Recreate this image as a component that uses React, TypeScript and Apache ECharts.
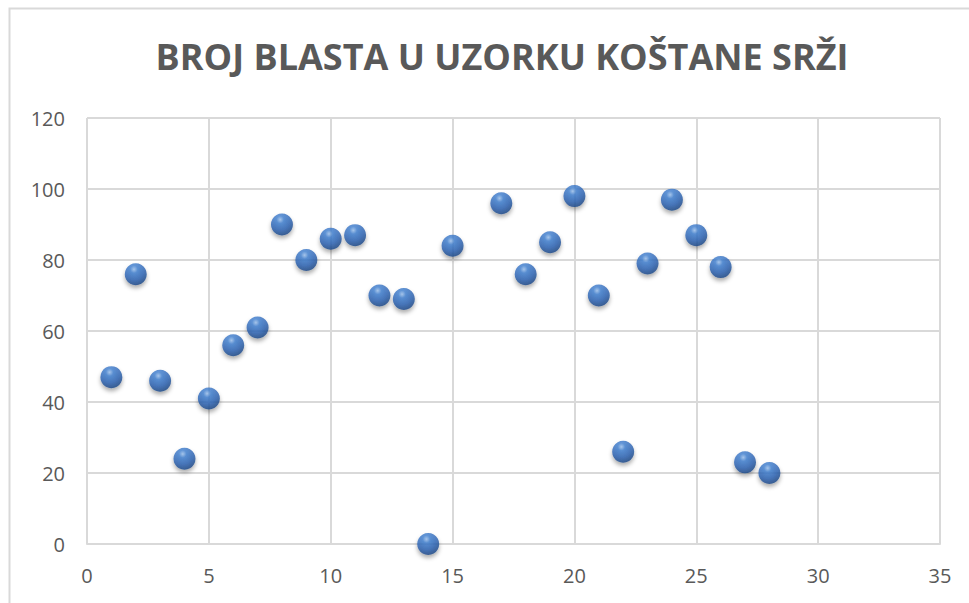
import React, { useEffect, useRef } from "react";
import * as echarts from "echarts";

const TITLE = "BROJ BLASTA U UZORKU KOŠTANE SRŽI";
const xValues = [1, 2, 3, 4, 5, 6, 7, 8, 9, 10, 11, 12, 13, 14, 15, 17, 18, 19, 20, 21, 22, 23, 24, 25, 26, 27, 28];
const yValues = [47, 76, 46, 24, 41, 56, 61, 90, 80, 86, 87, 70, 69, 0, 84, 96, 76, 85, 98, 70, 26, 79, 97, 87, 78, 23, 20];

export default function App() {
  const ref = useRef<HTMLDivElement>(null);
  useEffect(() => {
    if (!ref.current) return;
    const chart = echarts.init(ref.current, undefined, { renderer: "svg" });
    const data = xValues.map((x, i) => [x, yValues[i]]);
    const gray = "#d9d9d9";
    const textColor = "#595959";
    chart.setOption({
      animation: false,
      backgroundColor: "#ffffff",
      title: {
        text: TITLE,
        left: 497,
        textAlign: "center",
        top: 33,
        textStyle: { fontFamily: "Open Sans", fontWeight: "bold", fontSize: 36, color: textColor },
      },
      graphic: [
        {
          type: "rect",
          shape: { x: 9.5, y: 8.5, width: 1000, height: 700 },
          style: { fill: "none", stroke: gray, lineWidth: 2 },
          silent: true,
          z: -1,
        },
      ],
      grid: { left: 87, right: 29, top: 118, bottom: 59 },
      xAxis: {
        type: "value",
        min: 0,
        max: 35,
        interval: 5,
        axisLine: { show: true, lineStyle: { color: gray, width: 2 } },
        axisTick: { show: false },
        splitLine: { show: true, lineStyle: { color: gray, width: 2 } },
        axisLabel: { color: textColor, fontFamily: "Open Sans", fontSize: 20, margin: 21 },
      },
      yAxis: {
        type: "value",
        min: 0,
        max: 120,
        interval: 20,
        axisLine: { show: false },
        axisTick: { show: false },
        splitLine: { show: true, lineStyle: { color: gray, width: 2 } },
        axisLabel: { color: textColor, fontFamily: "Open Sans", fontSize: 20, margin: 22 },
      },
      series: [
        {
          type: "scatter",
          data,
          symbol: "circle",
          symbolSize: 22,
          itemStyle: {
            color: new echarts.graphic.RadialGradient(0.42, 0.28, 0.78, [
              { offset: 0, color: "#9cc1ee" },
              { offset: 0.22, color: "#3f7fd0" },
              { offset: 0.6, color: "#2a62b3" },
              { offset: 1, color: "#163f7a" },
            ]),
            shadowBlur: 4,
            shadowOffsetY: 3,
            shadowColor: "rgba(0,0,0,0.4)",
          },
        },
      ],
    });
    return () => chart.dispose();
  }, []);
  return (
    <div
      ref={ref}
      style={{ position: "fixed", left: 0, top: 0, width: 969, height: 603 }}
    />
  );
}
